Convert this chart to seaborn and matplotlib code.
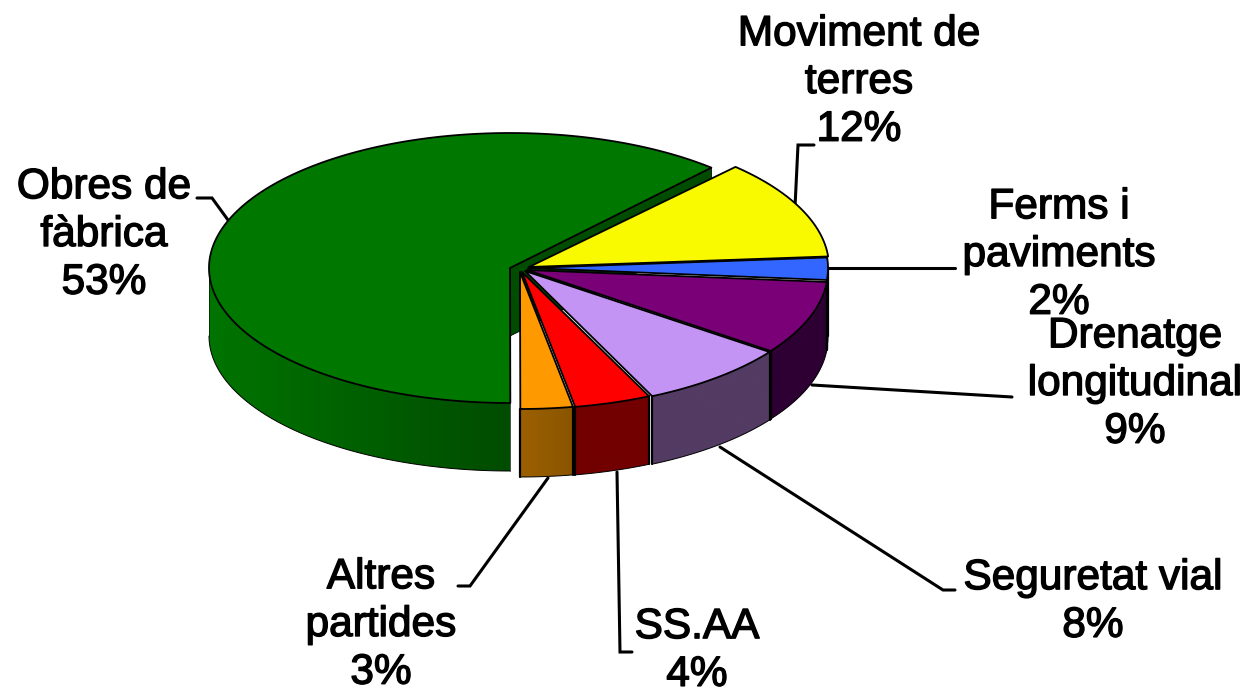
import numpy as np
import pandas as pd
import seaborn as sns
import matplotlib
matplotlib.use("Agg")
import matplotlib.pyplot as plt
import matplotlib.patheffects as pe
from matplotlib.patches import Polygon
from matplotlib.colors import to_rgb

categories = ["Obres de\nfàbrica", "Moviment de\nterres", "Ferms i\npaviments", "Drenatge\nlongitudinal",
              "Seguretat vial", "SS.AA", "Altres\npartides"]
labelled_pct = [53, 12, 2, 9, 8, 4, 3]
drawn_share = [62.1, 11.7, 2.6, 8.6, 8.1, 4.1, 2.8]   # slice sizes as seen in the picture
top_colors = ["#007800", "#F9F900", "#3366FF", "#7A0078", "#C494F5", "#FF0000", "#FF9900"]
wall_left = ["#007400", "#F9F900", "#3366FF", "#2E0033", "#533B63", "#720000", "#9C6000"]
wall_right = ["#004C00", "#F9F900", "#3366FF", "#2E0033", "#533B63", "#720000", "#8A5500"]

centres = [(510, 268), (529, 267), (528, 268), (527, 270), (525, 271), (522, 272), (520, 272)]
radii = [(301, 135), (300, 138), (300, 138), (301, 138), (302, 138), (302, 137), (301, 137)]
depth = 68
label_xy = [(104, 235), (859, 82), (1059, 255), (1135, 384), (1093, 602), (697, 651), (381, 625)]
leaders = [[(197, 198), (212, 198), (228, 220)],
           [(814, 145), (798, 145), (795, 207)],
           [(829, 268), (955, 268)],
           [(812, 385), (1012, 397)],
           [(720, 447), (943, 590), (955, 590)],
           [(617, 472), (620, 652), (632, 652)],
           [(548, 478), (470, 586), (458, 586)]]

sns.set_theme(style="white")
plt.rcParams["font.family"] = ["Liberation Sans", "DejaVu Sans"]
df = pd.DataFrame({"category": categories, "share": drawn_share, "pct": labelled_pct})
palette = sns.color_palette(top_colors)

fig = plt.figure(figsize=(12.54, 6.96), dpi=100)
ax = fig.add_axes([0, 0, 1, 1])
ax.axis("off")


def pt(c, r, t):
    t = np.radians(t)
    return c[0] + r[0] * np.cos(t), c[1] - r[1] * np.sin(t)


# clockwise from the green slice's right-hand cut
sweeps = df["share"].to_numpy() / df["share"].sum() * 360
first_start = 46.5 + sweeps[0]
ends = first_start - np.cumsum(sweeps)
starts = ends + sweeps
ends[0] += 1.5  # the exploded slice's cut sits slightly further round

# inner cut wall of the exploded slice (behind the others)
c0, r0 = centres[0], radii[0]
ex, ey = pt(c0, r0, ends[0])
ax.fill([c0[0], ex, ex, c0[0]], [c0[1], ey, ey + depth, c0[1] + depth],
        facecolor="#004C00", edgecolor="black", lw=0.6, zorder=1)

for i, row in df.iterrows():
    c, r = centres[i], radii[i]
    a0, a1 = ends[i], starts[i]
    lo, hi = a0 % 360, a1 % 360
    if hi <= lo:
        hi += 360
    if lo > 180 and hi > 360:
        wl, wh = lo, 360
    else:
        wl, wh = max(lo, 180), min(hi, 360)
    if wh > wl:
        edges = np.linspace(wl, wh, 120)
        x, y = pt(c, r, edges)
        poly = np.r_[np.c_[x, y], np.c_[x[::-1], y[::-1] + depth]]
        clip = Polygon(poly, closed=True, transform=ax.transData, facecolor="none", edgecolor="none")
        ax.add_patch(clip)
        cl, cr = np.array(to_rgb(wall_left[i])), np.array(to_rgb(wall_right[i]))
        f = np.linspace(0, 1, 256)[None, :, None]
        grad = cl[None, None, :] + (cr - cl)[None, None, :] * f
        im = ax.imshow(grad, extent=[x.min(), x.max(), y.max() + depth, y.min()], aspect="auto",
                       zorder=2, interpolation="bilinear")
        im.set_clip_path(clip)
        ax.plot(x, y + depth, color="black", lw=0.7, zorder=3)
        w = 1.6 if i else 0.4
        ax.plot([x[0], x[0]], [y[0], y[0] + depth], color="black", lw=w, zorder=3)
        ax.plot([x[-1], x[-1]], [y[-1], y[-1] + depth], color="black", lw=w, zorder=3)
    ts = np.linspace(a0, a1, 200)
    x, y = pt(c, r, ts)
    ax.fill(np.r_[c[0], x], np.r_[c[1], y], facecolor=palette[i], edgecolor="black", lw=1.3, zorder=4,
            joinstyle="round")

for pts in leaders:
    xs, ys = zip(*pts)
    ax.plot(xs, ys, color="black", lw=2.2, zorder=1, solid_joinstyle="miter")

for i, row in df.iterrows():
    ax.text(label_xy[i][0], label_xy[i][1], f"{row['category']}\n{row['pct']}%", ha="center", va="center",
            fontsize=30.5, color="black", linespacing=1.25, zorder=6,
            path_effects=[pe.withStroke(linewidth=1.0, foreground="black")])

ax.set_xlim(0, 1254)
ax.set_ylim(696, 0)
fig.savefig("out.png", dpi=100)
